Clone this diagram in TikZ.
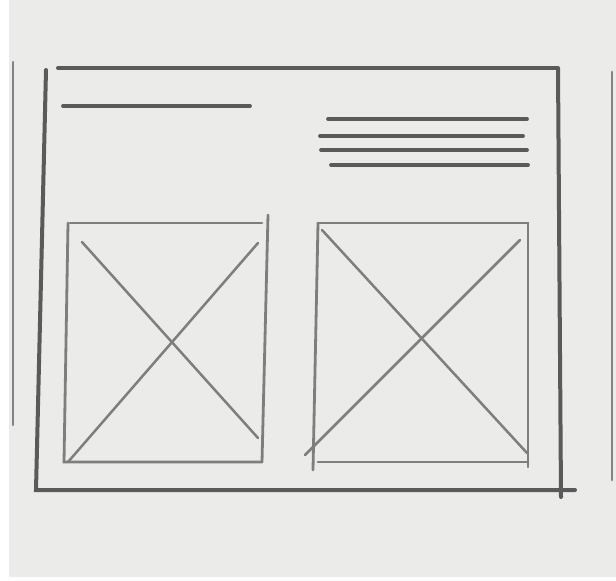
\documentclass[tikz,border=0pt]{standalone}
\usepackage{tikz}

\definecolor{paper}{HTML}{EBEBE9}
\definecolor{lead}{HTML}{5A5A5A}
\definecolor{softlead}{HTML}{7E7E7E}

\begin{document}
\begin{tikzpicture}[
  x=1pt, y=-1pt,
  frame/.style={draw=lead, line width=4pt, line cap=round},
  edge/.style={draw=lead!75, line width=2.6pt, line cap=round},
  pane/.style={draw=softlead, line width=2.8pt, line cap=round},
  cross/.style={draw=softlead, line width=2.5pt, line cap=round},
  textline/.style={draw=lead, line width=3.8pt, line cap=round}]
\useasboundingbox (0,0) rectangle (616,581);
\fill[white] (0,0) rectangle (616,581);
\fill[paper] (9,0) rectangle (616,577);
% paper edges
\draw[edge] (13,62) -- (13,425);
\draw[edge] (612,72) -- (612,480);
% page frame
\draw[frame] (58,68) -- (557,68);
\draw[frame] (558,68) -- (561,497);
\draw[frame] (46,70) -- (36,490) -- (575,490);
% heading and copy lines
\draw[textline] (63,106) -- (250,106);
\draw[textline] (328,119) -- (527,119);
\draw[textline] (320,136) -- (523,136);
\draw[textline] (321,150) -- (527,150);
\draw[textline] (331,165) -- (528,165);
% left image placeholder
\draw[pane] (70,223) -- (262,223);
\draw[pane] (268,215) -- (262,462);
\draw[pane] (68,223) -- (64,462) -- (262,462);
\draw[cross] (82,242) -- (258,438);
\draw[cross] (258,243) -- (68,462);
% right image placeholder
\draw[pane] (318,223) -- (528,223) -- (528,467);
\draw[pane] (318,223) -- (313,470);
\draw[pane] (318,462) -- (528,462);
\draw[cross] (322,230) -- (527,453);
\draw[cross] (520,240) -- (305,455);
\end{tikzpicture}
\end{document}
